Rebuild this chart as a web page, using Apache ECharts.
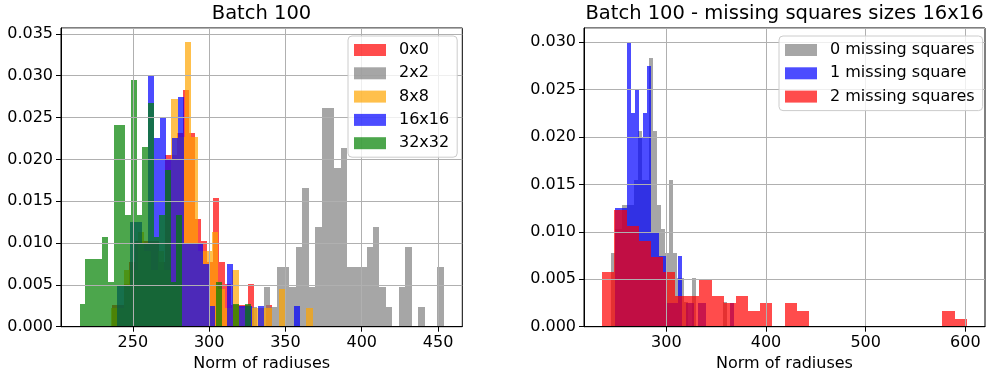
<!DOCTYPE html>
<html><head><meta charset="utf-8">
<script src="https://cdn.jsdelivr.net/npm/echarts@6/dist/echarts.min.js"></script>
<style>html,body{margin:0;padding:0;background:#fff}#c{width:986px;height:368px}</style>
</head><body><div id="c"></div>
<script>
// ---------- data ----------
const N_SAMPLES = 100;

// Left panel: "Batch 100"
const leftNames = ['0x0', '2x2', '8x8', '16x16', '32x32'];
const leftRanges = [[236.1, 341.3], [327.3, 453.8], [235.4, 367.8], [239.8, 359.8], [215.1, 327.1]];
const counts0x0   = [1,1,2,3,4,4,4,4,3,8,8,9,11,9,5,4,3,6,3,2,1,1,1,2,0,0,1];
const counts2x2   = [1,0,2,1,3,3,2,4,7,2,5,11,11,8,9,3,3,3,4,5,2,1,0,2,4,0,1,0,0,3];
const counts8x8   = [1,1,3,3,5,4,3,4,3,12,10,15,10,4,4,5,2,1,3,1,0,1,1,1,0,2,0,0,0,1];
const counts16x16 = [2,2,5,5,4,12,9,10,8,9,11,4,4,4,3,1,0,0,3,0,1,1,0,1,0,0,0,0,0,1];
const counts32x32 = [1,3,3,3,4,2,9,9,5,11,5,8,10,4,5,7,2,5,0,0,0,0,0,0,2,0,0,1,0,1];
const leftCounts = [counts0x0, counts2x2, counts8x8, counts16x16, counts32x32];
const leftXTicks = [250, 300, 350, 400, 450];

// Right panel: "Batch 100 - missing squares sizes 16x16"
const rightNames = ['0 missing squares', '1 missing square', '2 missing squares'];
const rightRanges = [[244.2, 360.75], [248.2, 368.2], [235.7, 601.4]];
const countsMiss0 = [3,4,4,5,5,5,6,8,6,6,11,8,5,4,3,6,3,2,2,1,0,2,0,0,0,0,0,0,0,1];
const countsMiss1 = [5,5,5,12,9,10,8,9,11,4,4,3,3,1,1,1,3,0,1,1,0,1,1,0,0,0,0,0,0,1];
const countsMiss2 = [7,15,13,11,9,7,4,4,6,4,3,4,2,3,0,3,2,0,0,0,0,0,0,0,0,0,0,0,2,1];
const rightCounts = [countsMiss0, countsMiss1, countsMiss2];
const rightXTicks = [300, 400, 500, 600];

// ---------- styling ----------
const leftColors = ['rgba(255,0,0,0.7)', 'rgba(128,128,128,0.7)', 'rgba(255,165,0,0.7)', 'rgba(0,0,255,0.7)', 'rgba(0,128,0,0.7)'];
const rightColors = ['rgba(128,128,128,0.7)', 'rgba(0,0,255,0.7)', 'rgba(255,0,0,0.7)'];
const FONT = 'DejaVu Sans';
const FS = 16;

function histData(range, counts) {
  const w = (range[1] - range[0]) / counts.length;
  return counts.map((c, i) => [range[0] + i * w, range[0] + (i + 1) * w, c / (N_SAMPLES * w)]);
}

function makeRender(color) {
  return function (params, api) {
    const h = api.value(2);
    if (!h) return null;
    const p0 = api.coord([api.value(0), 0]);
    const p1 = api.coord([api.value(1), h]);
    const x0 = Math.round(p0[0]), x1 = Math.round(p1[0]);
    const yb = Math.round(p0[1]), yt = Math.round(p1[1]);
    return {
      type: 'rect',
      shape: { x: x0, y: yt, width: x1 - x0, height: yb - yt },
      style: { fill: color }
    };
  };
}

const series = [];
leftNames.forEach((n, i) => series.push({
  type: 'custom', name: n, xAxisIndex: 0, yAxisIndex: 0, z: 2, silent: true,
  data: histData(leftRanges[i], leftCounts[i]), encode: { x: [0, 1], y: 2 },
  itemStyle: { color: leftColors[i] }, renderItem: makeRender(leftColors[i])
}));
rightNames.forEach((n, i) => series.push({
  type: 'custom', name: n, xAxisIndex: 1, yAxisIndex: 1, z: 2, silent: true,
  data: histData(rightRanges[i], rightCounts[i]), encode: { x: [0, 1], y: 2 },
  itemStyle: { color: rightColors[i] }, renderItem: makeRender(rightColors[i])
}));

function xAxis(gi, min, max, ticks, step) {
  return {
    gridIndex: gi, type: 'value', min: min, max: max, splitNumber: 5, z: 5,
    axisLine: { show: true, onZero: false, lineStyle: { color: '#000', width: 1 } },
    axisTick: { show: true, length: 5, lineStyle: { color: '#000' }, customValues: ticks },
    axisLabel: {
      customValues: ticks, margin: 8, fontSize: FS, fontFamily: FONT, color: '#000',
      formatter: v => (Math.abs(v / step - Math.round(v / step)) < 1e-6 ? String(Math.round(v)) : '')
    },
    splitLine: { show: true, lineStyle: { color: '#b0b0b0', width: 1 } },
    name: 'Norm of radiuses', nameLocation: 'middle', nameGap: 28,
    nameTextStyle: { fontSize: FS, fontFamily: FONT, color: '#000' }
  };
}
function yAxis(gi, max) {
  return {
    gridIndex: gi, type: 'value', min: 0, max: max, interval: 0.005, z: 5,
    axisLine: { show: true, onZero: false, lineStyle: { color: '#000', width: 1 } },
    axisTick: { show: true, length: 5, lineStyle: { color: '#000' } },
    axisLabel: {
      margin: 8, fontSize: FS, fontFamily: FONT, color: '#000', showMaxLabel: false,
      formatter: v => (Math.abs(v / 0.005 - Math.round(v / 0.005)) < 1e-6 ? v.toFixed(3) : '')
    },
    splitLine: { show: true, lineStyle: { color: '#b0b0b0', width: 1 } }
  };
}

function legend(names, left, top) {
  return {
    data: names, left: left, top: top, orient: 'vertical', icon: 'rect',
    itemWidth: 32, itemHeight: 12, itemGap: 5.3, selectedMode: false, z: 20,
    padding: [5, 8, 5, 6], backgroundColor: 'rgba(255,255,255,0.8)',
    borderColor: '#cccccc', borderWidth: 1, borderRadius: 4,
    textStyle: { fontSize: FS, fontFamily: FONT, color: '#000', lineHeight: 18, padding: [0, 0, 0, 8] }
  };
}

const chart = echarts.init(document.getElementById('c'), null, { renderer: 'canvas' });
chart.setOption({
  animation: false,
  backgroundColor: '#fff',
  grid: [
    { left: 61, top: 28, width: 401.3, height: 298.7, show: true, borderColor: '#000', borderWidth: 1, backgroundColor: 'transparent', containLabel: false, outerBoundsMode: 'none' },
    { left: 584, top: 28, width: 401, height: 298.7, show: true, borderColor: '#000', borderWidth: 1, backgroundColor: 'transparent', containLabel: false, outerBoundsMode: 'none' }
  ],
  xAxis: [xAxis(0, 202.9, 465.9, leftXTicks, 50), xAxis(1, 217.4, 619.7, rightXTicks, 100)],
  yAxis: [yAxis(0, 0.0357), yAxis(1, 0.0315)],
  legend: [legend(leftNames, 348, 36), legend(rightNames, 779, 36)],
  graphic: [
    { type: 'text', x: 261.5, y: 14, style: { text: 'Batch 100', font: '19.5px "DejaVu Sans"', fill: '#000', align: 'center', verticalAlign: 'middle' } },
    { type: 'text', x: 784.5, y: 14, style: { text: 'Batch 100 - missing squares sizes 16x16', font: '19.5px "DejaVu Sans"', fill: '#000', align: 'center', verticalAlign: 'middle' } }
  ],
  series: series
});
</script>
</body></html>
